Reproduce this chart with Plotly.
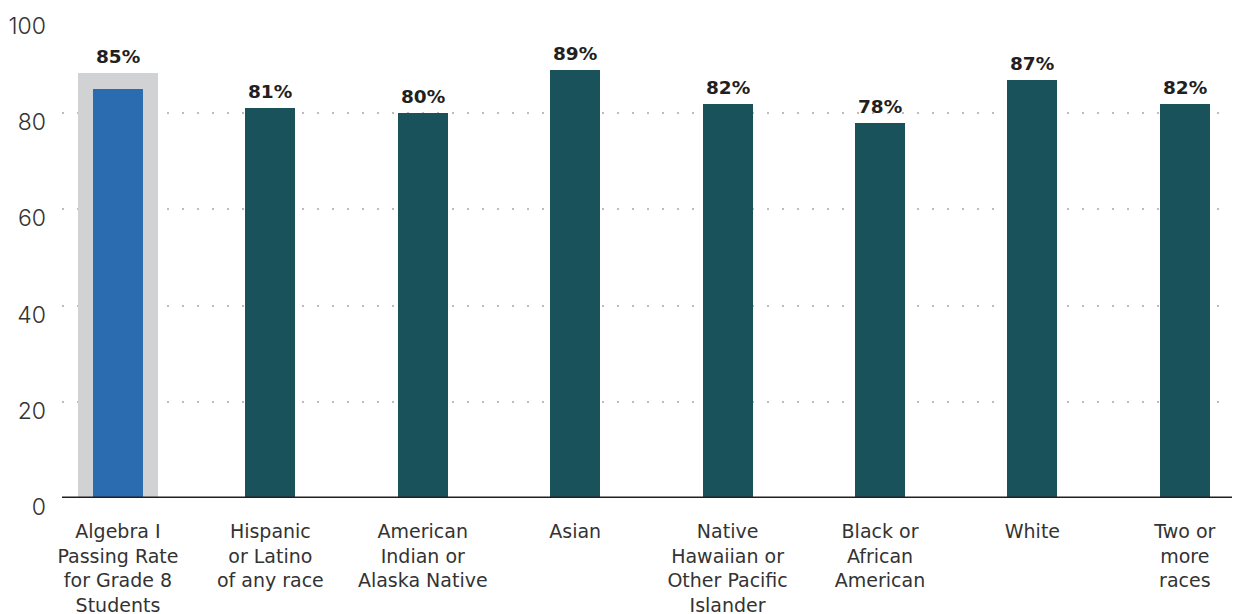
import plotly.graph_objects as go

categories = [
    "Algebra I<br>Passing Rate<br>for Grade 8<br>Students",
    "Hispanic<br>or Latino<br>of any race",
    "American<br>Indian or<br>Alaska Native",
    "Asian",
    "Native<br>Hawaiian or<br>Other Pacific<br>Islander",
    "Black or<br>African<br>American",
    "White",
    "Two or<br>more<br>races",
]
values = [85, 81, 80, 89, 82, 78, 87, 82]
y_ticks = [0, 20, 40, 60, 80, 100]

BLUE = "#2b6bb0"
TEAL = "#1a525c"
GRAY = "#d1d2d4"
TXT = "#231f20"
FONT = "DejaVu Sans"

colors = [BLUE] + [TEAL] * (len(values) - 1)
xs = list(range(len(categories)))

fig = go.Figure()
# highlight box behind the first (overall) bar
fig.add_trace(go.Bar(
    x=[xs[0]], y=[values[0] + 3.4], width=0.525,
    marker=dict(color=GRAY, line=dict(width=0)),
    hoverinfo="skip", showlegend=False,
))
fig.add_trace(go.Bar(
    x=xs, y=values, width=0.328,
    marker=dict(color=colors, line=dict(width=0)),
    showlegend=False,
))

for i, v in enumerate(values):
    ytop = v + 3.4 if i == 0 else v
    fig.add_annotation(
        x=xs[i], y=ytop, text=f"<b>{v}%</b>", showarrow=False,
        yanchor="bottom", yshift=4,
        font=dict(family=FONT, size=18.5, color=TXT),
    )

fig.update_layout(
    width=1232, height=606,
    margin=dict(l=54, r=0, t=9, b=116),
    paper_bgcolor="white", plot_bgcolor="white",
    barmode="overlay", bargap=0,
    font=dict(family=FONT, color=TXT),
    xaxis=dict(
        tickmode="array", tickvals=xs, ticktext=categories,
        range=[-0.367, 7.362], automargin=False,
        showgrid=False, zeroline=False, showline=False,
        ticks="", ticklabelstandoff=20,
        tickfont=dict(family=FONT, size=19, color="#333333"),
    ),
    yaxis=dict(
        range=[0, 100], tickvals=y_ticks, automargin=False,
        showgrid=True, gridcolor="#bdbdbd", griddash="2px,13px", gridwidth=1.5,
        zeroline=False, showline=False, ticks="",
        ticklabelstandoff=15, ticklabelshift=9,
        tickfont=dict(family="Inter", size=23, color="#333333", weight=300),
    ),
    shapes=[dict(
        type="line", xref="paper", yref="y", x0=0, x1=1, y0=0, y1=0,
        line=dict(color=TXT, width=3), layer="above",
    )],
)

fig.write_html("out.html")
